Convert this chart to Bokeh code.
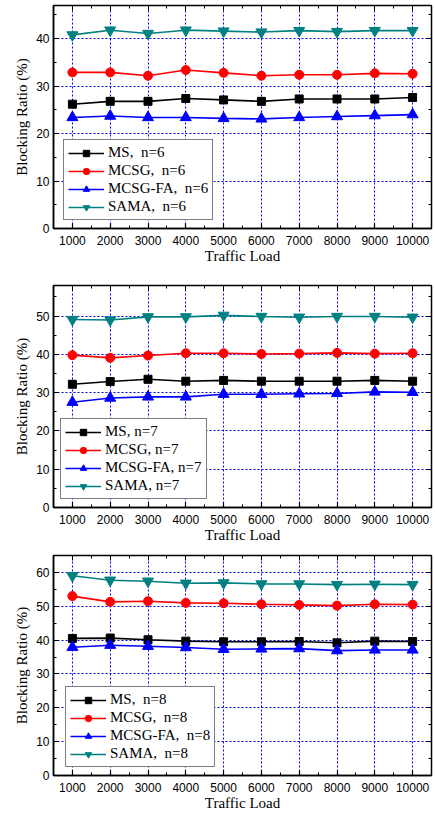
from bokeh.plotting import figure
from bokeh.layouts import column
from bokeh.models import LinearAxis, FixedTicker, Legend, LegendItem, Range1d
from bokeh.embed import file_html
from bokeh.resources import INLINE

# ---------------- data ----------------
loads = [1000, 2000, 3000, 4000, 5000, 6000, 7000, 8000, 9000, 10000]

ms_n6 = [26.2, 26.8, 26.8, 27.4, 27.1, 26.8, 27.3, 27.3, 27.3, 27.6]
mcsg_n6 = [32.9, 32.9, 32.2, 33.4, 32.8, 32.2, 32.4, 32.4, 32.7, 32.6]
fa_n6 = [23.4, 23.7, 23.4, 23.4, 23.2, 23.1, 23.4, 23.6, 23.8, 24.0]
sama_n6 = [40.8, 41.8, 41.1, 41.8, 41.6, 41.4, 41.7, 41.5, 41.7, 41.7]

ms_n7 = [32.2, 32.9, 33.5, 33.0, 33.2, 33.0, 33.0, 33.0, 33.2, 33.0]
mcsg_n7 = [39.8, 39.1, 39.7, 40.3, 40.3, 40.1, 40.2, 40.4, 40.2, 40.3]
fa_n7 = [27.5, 28.6, 28.9, 28.9, 29.6, 29.6, 29.7, 29.8, 30.2, 30.1]
sama_n7 = [49.1, 49.0, 49.8, 49.8, 50.2, 49.9, 49.7, 49.9, 49.9, 49.7]

ms_n8 = [40.5, 40.6, 40.1, 39.7, 39.5, 39.5, 39.6, 39.2, 39.7, 39.6]
mcsg_n8 = [53.0, 51.3, 51.5, 51.0, 50.9, 50.6, 50.4, 50.2, 50.6, 50.5]
fa_n8 = [37.9, 38.5, 38.2, 37.8, 37.3, 37.4, 37.5, 36.9, 37.1, 37.1]
sama_n8 = [59.0, 57.7, 57.4, 56.8, 56.9, 56.6, 56.6, 56.4, 56.5, 56.4]

yticks_n6 = [0, 10, 20, 30, 40]
yticks_n7 = [0, 10, 20, 30, 40, 50]
yticks_n8 = [0, 10, 20, 30, 40, 50, 60]

series_names = ["MS", "MCSG", "MCSG-FA", "SAMA"]
legend_sep = {6: ",  ", 7: ", ", 8: ",  "}

COLORS = ["#000000", "#FF0000", "#0000FF", "#008080"]
MARKERS = ["square", "circle", "triangle", "inverted_triangle"]
MSIZES = [8, 9, 11, 11]

SERIF = "Liberation Serif"
SANS = "Liberation Sans"


def make_panel(n, series, yticks, ymax, width, height, bl, br, bt, bb, leg_loc):
    p = figure(width=width, height=height, output_backend="svg", toolbar_location=None,
               x_range=Range1d(500, 10500), y_range=Range1d(0, ymax),
               min_border_left=bl, min_border_right=br, min_border_top=bt,
               min_border_bottom=bb, x_axis_label="Traffic Load",
               y_axis_label="Blocking Ratio (%)")
    p.background_fill_color = "white"
    p.border_fill_color = "white"
    p.outline_line_color = "black"
    p.outline_line_width = 1.5

    xminor = [loads[0] - 500] + [t + 500 for t in loads]
    yminor = [t + 5 for t in yticks]
    p.xaxis.ticker = FixedTicker(ticks=loads, minor_ticks=xminor)
    p.yaxis.ticker = FixedTicker(ticks=yticks, minor_ticks=yminor)

    for ax in (p.xaxis[0], p.yaxis[0]):
        ax.axis_line_width = 1.5
        ax.major_tick_in = 5
        ax.major_tick_out = 0
        ax.minor_tick_in = 3
        ax.minor_tick_out = 0
        ax.major_tick_line_width = 1.2
        ax.major_label_text_font = SANS
        ax.major_label_text_font_size = "12px"
        ax.major_label_text_color = "black"
        ax.axis_label_text_font = SERIF
        ax.axis_label_text_font_size = "15px"
        ax.axis_label_text_font_style = "normal"
        ax.axis_label_text_color = "black"
    p.xaxis.major_label_standoff = 7
    p.xaxis.axis_label_standoff = 0
    p.yaxis.major_label_standoff = 4
    p.yaxis.axis_label_standoff = 3

    top = LinearAxis(ticker=FixedTicker(ticks=loads, minor_ticks=xminor),
                     major_label_text_font_size="1px", major_label_text_color=None,
                     major_label_standoff=0,
                     axis_line_color=None, major_tick_in=5, major_tick_out=0,
                     minor_tick_in=3, minor_tick_out=0)
    right = LinearAxis(ticker=FixedTicker(ticks=yticks, minor_ticks=yminor),
                       major_label_text_font_size="1px", major_label_text_color=None,
                       major_label_standoff=0,
                       axis_line_color=None, major_tick_in=5, major_tick_out=0,
                       minor_tick_in=3, minor_tick_out=0)
    p.add_layout(top, "above")
    p.add_layout(right, "right")

    for g in (p.xgrid[0], p.ygrid[0]):
        g.grid_line_color = "#0000FF"
        g.grid_line_dash = "2 2"
        g.grid_line_width = 1

    items = []
    for name, vals, c, m, s in zip(series_names, series, COLORS, MARKERS, MSIZES):
        lr = p.line(loads, vals, line_color=c, line_width=1.6)
        sr = p.scatter(loads, vals, marker=m, size=s, fill_color=c, line_color=c)
        items.append(LegendItem(label=f"{name}{legend_sep[n]}n={n}", renderers=[lr, sr]))

    leg = Legend(items=items, location=leg_loc)
    leg.label_text_font = SERIF
    leg.label_text_font_size = "15px"
    leg.label_text_color = "black"
    leg.glyph_width = 36
    leg.glyph_height = 16
    leg.label_height = 16
    leg.label_standoff = 4
    leg.spacing = 1
    leg.padding = 4
    leg.margin = 0
    leg.border_line_color = "black"
    leg.border_line_width = 1.2
    leg.background_fill_color = "white"
    leg.background_fill_alpha = 1
    p.add_layout(leg, "center")
    return p


p1 = make_panel(6, [ms_n6, mcsg_n6, fa_n6, sama_n6], yticks_n6, 47,
                435, 275, 51, 0, 5, 47, (10, 8))
p2 = make_panel(7, [ms_n7, mcsg_n7, fa_n7, sama_n7], yticks_n7, 58,
                435, 270, 49, 0, 10, 34, (7, 8))
p3 = make_panel(8, [ms_n8, mcsg_n8, fa_n8, sama_n8], yticks_n8, 65,
                435, 269, 53, 4, 10, 39, (12, 8))

layout = column(p1, p2, p3, spacing=0)
open("out.html", "w").write(file_html(layout, INLINE))
